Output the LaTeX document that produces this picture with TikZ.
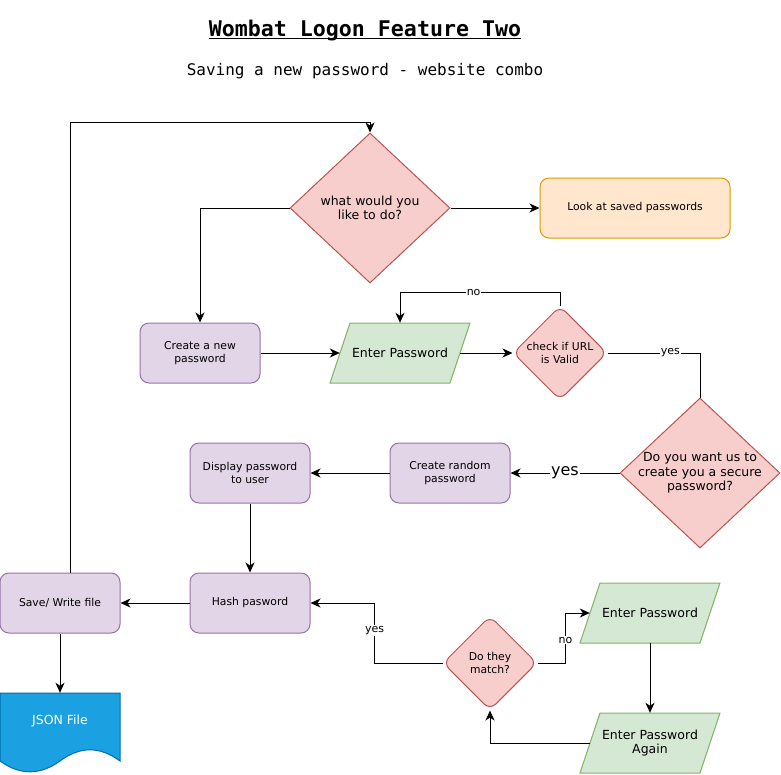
\documentclass[tikz,border=0pt]{standalone}
\usepackage{fontspec}
\setmainfont{DejaVu Sans}
\newfontfamily\headfont{DejaVu Sans Mono}
\usetikzlibrary{shapes.geometric, arrows.meta}

\definecolor{procfill}{HTML}{E1D5E7}
\definecolor{procline}{HTML}{9673A6}
\definecolor{iofill}{HTML}{D5E8D4}
\definecolor{ioline}{HTML}{82B366}
\definecolor{decfill}{HTML}{F8CECC}
\definecolor{decline}{HTML}{B85450}
\definecolor{viewfill}{HTML}{FFE6CC}
\definecolor{viewline}{HTML}{D79B00}
\definecolor{jsonfill}{HTML}{1BA1E2}
\definecolor{jsonline}{HTML}{006EAF}

\tikzset{
  smalltext/.style = {font = \fontsize{10.8}{12.5}\selectfont},
  bigtext/.style = {font = \fontsize{12.5}{14.5}\selectfont},
  proc/.style = {rectangle, rounded corners = 9pt, draw = procline, fill = procfill,
    line width = 1pt, minimum width = 120pt, minimum height = 60pt, align = center, smalltext},
  ioshape/.style = {draw = ioline, fill = iofill, line width = 1pt},
  io/.style = {rectangle, minimum width = 120pt, minimum height = 60pt, align = center, bigtext},
  dec/.style = {diamond, draw = decline, fill = decfill, line width = 1pt, inner sep = 0pt},
  dectext/.style = {align = center, inner sep = 0pt},
  arr/.style = {-{Stealth[length = 10pt, width = 9pt, inset = 3pt]}, line width = 1pt},
  lbl/.style = {fill = white, inner sep = 1pt, font = \fontsize{11}{13}\selectfont}
}

% slanted input box: name, x, y, text
\newcommand{\iobox}[4]{%
  \filldraw[ioshape] ({#2 - 70}, {#3 + 30}) -- ({#2 + 50}, {#3 + 30})
    -- ({#2 + 70}, {#3 - 30}) -- ({#2 - 50}, {#3 - 30}) -- cycle;
  \node[io] (#1) at (#2, #3) {#4};
}

\begin{document}
\begin{tikzpicture}[x = 1pt, y = -1pt]
  \useasboundingbox (0, 0) rectangle (781, 774);
  % headings
  \node[anchor = base, inner sep = 0pt] (title) at (365, 36)
    {\headfont\bfseries\fontsize{21.6}{24}\selectfont Wombat Logon Feature Two};
  \draw[line width = 1.5pt] ([yshift = -2.5pt]title.base west) -- ([yshift = -2.5pt]title.base east);
  \node[anchor = base, inner sep = 0pt] (subtitle) at (365, 75)
    {\headfont\fontsize{16}{19}\selectfont Saving a new password - website combo};
  % decisions
  \node[dec, minimum width = 160pt, minimum height = 150pt] (what) at (370, 208) {};
  \node[dectext, bigtext] (what-t) at (what) {what would you\\like to do?};
  \node[dec, rounded corners = 8pt, minimum width = 94pt, minimum height = 94pt] (url) at (560, 353) {};
  \node[dectext, smalltext] (url-t) at (url) {check if URL\\is Valid};
  \node[dec, minimum width = 160pt, minimum height = 150pt] (ask) at (700, 473) {};
  \node[dectext, bigtext] (ask-t) at (ask) {Do you want us to\\create you a secure\\password?};
  \node[dec, rounded corners = 8pt, minimum width = 94pt, minimum height = 94pt] (match) at (490, 663) {};
  \node[dectext, smalltext] (match-t) at (match) {Do they\\match?};
  % boxes
  \node[proc, draw = viewline, fill = viewfill, minimum width = 190pt] (look) at (635, 208) {Look at saved passwords};
  \node[proc] (newpw) at (200, 353) {Create a new\\password};
  \iobox{enter}{400}{353}{Enter Password}
  \node[proc] (rand) at (450, 473) {Create random\\password};
  \node[proc] (show) at (250, 473) {Display password\\to user};
  \node[proc] (hash) at (250, 603) {Hash pasword};
  \node[proc] (save) at (60, 603) {Save/ Write file};
  \iobox{enter2}{650}{613}{Enter Password}
  \iobox{again}{650}{743}{Enter Password\\Again}
  % json document
  \filldraw[draw = jsonline, fill = jsonfill, line width = 1pt] (0, 693) -- (120, 693) -- (120, 761)
    .. controls (100, 746.1) and (80, 746.1) .. (60, 761)
    .. controls (40, 775.4) and (20, 775.4) .. (0, 761) -- cycle;
  \node[text = white, bigtext, minimum width = 120pt, minimum height = 56pt] (json) at (60, 721) {JSON File};
  % connectors
  \draw[arr] ([xshift = 10pt]save.north) -- ++(0, -450) -| (what.north);
  \draw[arr] (what.west) -| (newpw.north);
  \draw[arr] (what.east) -- (look.west);
  \draw[arr] (newpw.east) -- (enter.west);
  \draw[arr] (enter.east) -- (url.west);
  \draw[arr] (url.north) -- ++(0, -13) -| node[lbl, pos = 0.27] {no} (enter.north);
  \draw[line width = 1pt] (url.east) -| node[lbl, pos = 0.34] {yes} (ask.north);
  \draw[arr] (ask.west) -- node[lbl, font = \fontsize{16}{18}\selectfont] {yes} (rand.east);
  \draw[arr] (rand.west) -- (show.east);
  \draw[arr] (show.south) -- (hash.north);
  \draw[arr] (hash.west) -- (save.east);
  \draw[arr] (save.south) -- (json.north);
  \draw[arr] (match.west) -- ++(-68, 0) |- node[lbl, pos = 0.27] {yes} (hash.east);
  \draw[arr] (match.east) -- ++(28, 0) |- node[lbl, pos = 0.23] {no} (enter2.west);
  \draw[arr] (enter2.south) -- (again.north);
  \draw[arr] (again.west) -| (match.south);
\end{tikzpicture}
\end{document}
